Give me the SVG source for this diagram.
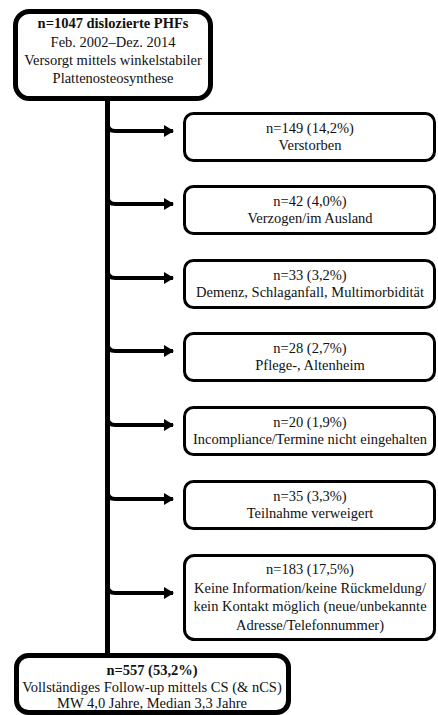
<svg xmlns="http://www.w3.org/2000/svg" width="438" height="715" viewBox="0 0 438 715">
<style>
text{font-family:"Liberation Serif","Times New Roman",serif;font-size:14.5px;fill:#111;text-anchor:middle}
.b{font-weight:bold}
.main{fill:#fff;stroke:#000;stroke-width:5}
.side{fill:#fff;stroke:#000;stroke-width:3}
.conn{fill:none;stroke:#000;stroke-width:4}
.trunk{fill:none;stroke:#000;stroke-width:5}
</style>
<defs>
<marker id="ah" viewBox="0 0 10 12" refX="9" refY="6" markerWidth="10" markerHeight="12" markerUnits="userSpaceOnUse" orient="auto">
<path d="M0,0 L10,6 L0,12 z" fill="#000"/>
</marker>
</defs>
<rect width="438" height="715" fill="#fff"/>
<g id="connectors">
<path class="trunk" d="M107.5,99 V656"/>
<path class="conn" d="M107.5,123 Q107.5,131 115.5,131 H173" marker-end="url(#ah)"/>
<path class="conn" d="M107.5,196 Q107.5,204 115.5,204 H173" marker-end="url(#ah)"/>
<path class="conn" d="M107.5,270 Q107.5,278 115.5,278 H173" marker-end="url(#ah)"/>
<path class="conn" d="M107.5,343 Q107.5,351 115.5,351 H173" marker-end="url(#ah)"/>
<path class="conn" d="M107.5,417 Q107.5,425 115.5,425 H173" marker-end="url(#ah)"/>
<path class="conn" d="M107.5,491 Q107.5,499 115.5,499 H173" marker-end="url(#ah)"/>
<path class="conn" d="M107.5,585 Q107.5,593 115.5,593 H173" marker-end="url(#ah)"/>
</g>
<g id="start">
<rect class="main" x="15.5" y="11.5" width="195" height="87" rx="14"/>
<text x="113" y="28" class="b">n=1047 dislozierte PHFs</text>
<text x="113" y="47">Feb. 2002–Dez. 2014</text>
<text x="113" y="65">Versorgt mittels winkelstabiler</text>
<text x="113" y="83">Plattenosteosynthese</text>
</g>
<g id="n1">
<rect class="side" x="184.5" y="113.5" width="250" height="47" rx="9"/>
<text x="310" y="133">n=149 (14,2%)</text>
<text x="310" y="150">Verstorben</text>
</g>
<g id="n2">
<rect class="side" x="184.5" y="186.5" width="250" height="47" rx="9"/>
<text x="310" y="206">n=42 (4,0%)</text>
<text x="310" y="223">Verzogen/im Ausland</text>
</g>
<g id="n3">
<rect class="side" x="184.5" y="260.5" width="250" height="47" rx="9"/>
<text x="310" y="280">n=33 (3,2%)</text>
<text x="310" y="297">Demenz, Schlaganfall, Multimorbidität</text>
</g>
<g id="n4">
<rect class="side" x="184.5" y="333.5" width="250" height="47" rx="9"/>
<text x="310" y="353">n=28 (2,7%)</text>
<text x="310" y="370">Pflege-, Altenheim</text>
</g>
<g id="n5">
<rect class="side" x="184.5" y="407.5" width="250" height="47" rx="9"/>
<text x="310" y="427">n=20 (1,9%)</text>
<text x="310" y="444">Incompliance/Termine nicht eingehalten</text>
</g>
<g id="n6">
<rect class="side" x="184.5" y="481.5" width="250" height="47" rx="9"/>
<text x="310" y="501">n=35 (3,3%)</text>
<text x="310" y="518">Teilnahme verweigert</text>
</g>
<g id="n7">
<rect class="side" x="184.5" y="555.5" width="250" height="84" rx="10"/>
<text x="310" y="574">n=183 (17,5%)</text>
<text x="310" y="592.5">Keine Information/keine Rückmeldung/</text>
<text x="310" y="611">kein Kontakt möglich (neue/unbekannte</text>
<text x="310" y="629.5">Adresse/Telefonnummer)</text>
</g>
<g id="result">
<rect class="main" x="16.5" y="655.5" width="272" height="57" rx="12"/>
<text x="152" y="675" class="b">n=557 (53,2%)</text>
<text x="152" y="692">Vollständiges Follow-up mittels CS (&amp; nCS)</text>
<text x="152" y="708">MW 4,0 Jahre, Median 3,3 Jahre</text>
</g>
</svg>
